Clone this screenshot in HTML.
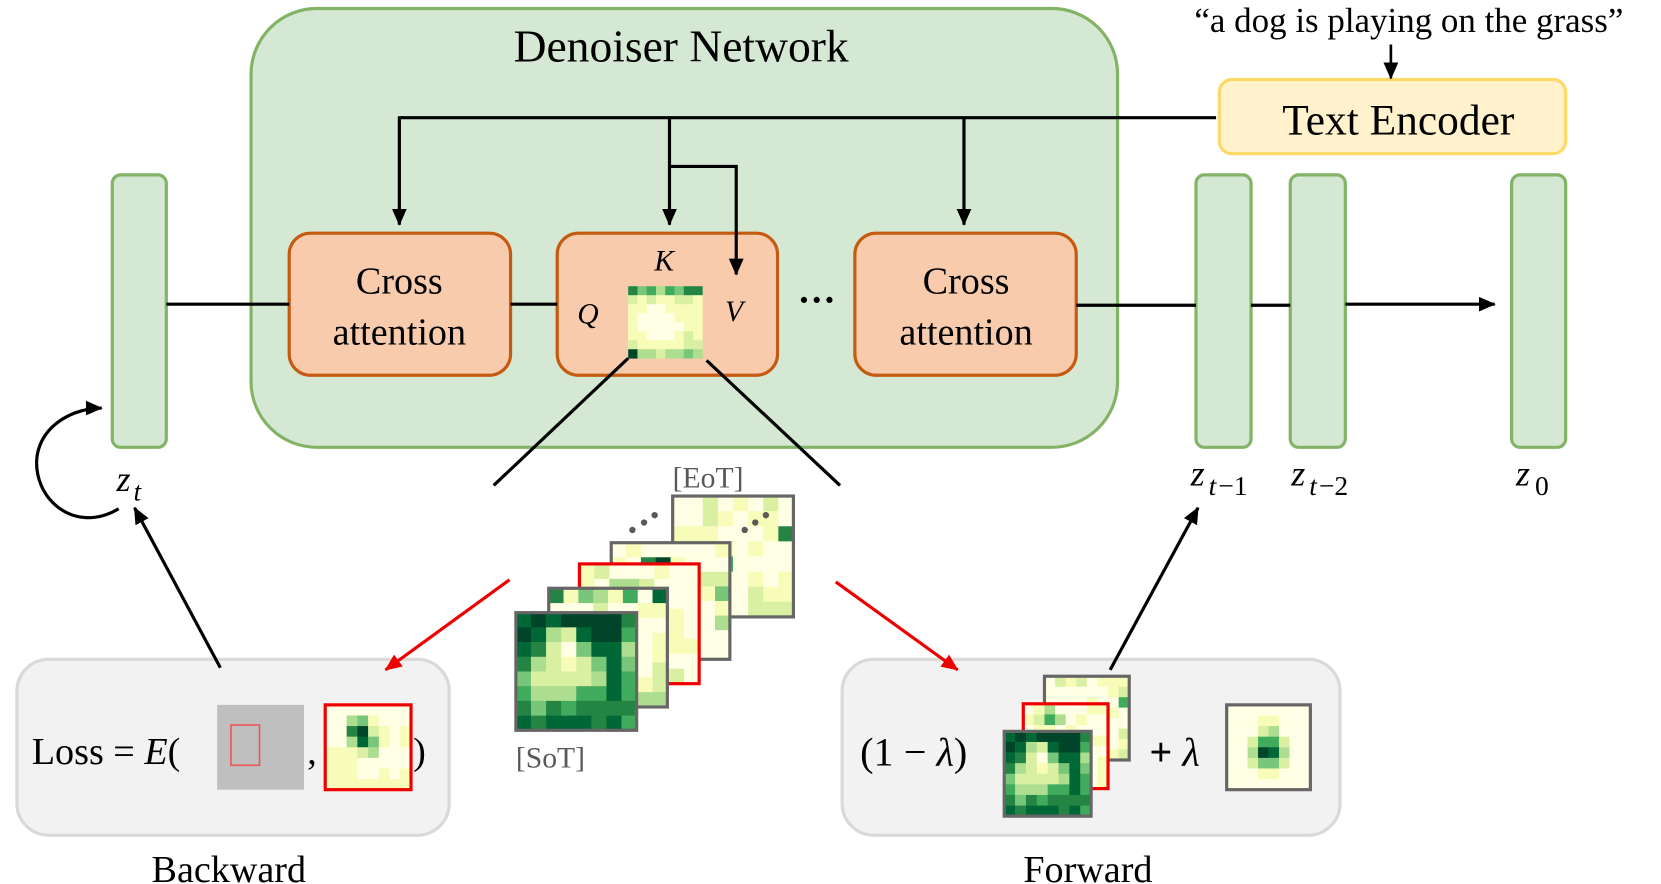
<!DOCTYPE html>
<html><head><meta charset="utf-8">
<style>
html,body{margin:0;padding:0;background:#fff;}
svg{display:block;}
text{font-family:"Liberation Serif",serif;}
</style></head>
<body>
<svg id="s" width="1661" height="884" viewBox="0 0 1568 834" preserveAspectRatio="none" xmlns="http://www.w3.org/2000/svg">
<defs>
<marker id="ar" markerWidth="16" markerHeight="16" refX="15" refY="8" orient="auto" markerUnits="userSpaceOnUse" viewBox="0 0 16 16"><path d="M0,1 L16,8 L0,15 z" fill="#e00"/></marker>
<marker id="abig" markerWidth="16" markerHeight="16" refX="15" refY="8" orient="auto" markerUnits="userSpaceOnUse" viewBox="0 0 16 16"><path d="M0,1 L16,8 L0,15 z" fill="#000"/></marker>
</defs>

<!-- Denoiser -->
<rect x="237" y="8" width="818" height="414" rx="62" fill="#d5e8d4" stroke="#82b366" stroke-width="3"/>
<text x="643" y="58" font-size="43" text-anchor="middle">Denoiser Network</text>

<!-- quote + text encoder -->
<text x="1330" y="30" font-size="33" text-anchor="middle">“a dog is playing  on the grass”</text>
<rect x="1151" y="75" width="327" height="70" rx="12" fill="#fff2cc" stroke="#ffd966" stroke-width="3"/>
<text x="1320" y="127" font-size="41" text-anchor="middle">Text Encoder</text>

<!-- z columns -->
<g fill="#d5e8d4" stroke="#82b366" stroke-width="3">
<rect x="106" y="165" width="51" height="257" rx="8"/>
<rect x="1129" y="165" width="52" height="257" rx="8"/>
<rect x="1218" y="165" width="52" height="257" rx="8"/>
<rect x="1427" y="165" width="51" height="257" rx="8"/>
</g>

<!-- cross attention boxes -->
<g fill="#f8cbad" stroke="#c55a11" stroke-width="3">
<rect x="273" y="220" width="209" height="134" rx="20"/>
<rect x="526" y="220" width="208" height="134" rx="20"/>
<rect x="807" y="220" width="209" height="134" rx="20"/>
</g>
<text x="377" y="277" font-size="36" text-anchor="middle">Cross</text>
<text x="377" y="325" font-size="36" text-anchor="middle">attention</text>
<text x="912" y="277" font-size="36" text-anchor="middle">Cross</text>
<text x="912" y="325" font-size="36" text-anchor="middle">attention</text>
<text x="771" y="295" font-size="36" text-anchor="middle" font-weight="bold">···</text>
<text x="555" y="305" font-size="28" font-style="italic" text-anchor="middle">Q</text>
<text x="627" y="255" font-size="28" font-style="italic" text-anchor="middle">K</text>
<text x="693" y="303" font-size="28" font-style="italic" text-anchor="middle">V</text>
<g id="mini"></g>

<!-- bottom boxes -->
<rect x="16" y="622" width="408" height="166" rx="30" fill="#f2f2f2" stroke="#d9d9d9" stroke-width="3"/>
<rect x="795" y="622" width="470" height="166" rx="30" fill="#f2f2f2" stroke="#d9d9d9" stroke-width="3"/>
<text x="216" y="832" font-size="36" text-anchor="middle">Backward</text>
<text x="1027" y="832" font-size="36" text-anchor="middle">Forward</text>

<!-- connectors -->
<line x1="1313" y1="42" x2="1313" y2="74" stroke="#000" stroke-width="2.5" marker-end="url(#abig)"/>
<g stroke="#000" stroke-width="3" fill="none">
<line x1="1148" y1="111" x2="376" y2="111"/>
<line x1="377" y1="110" x2="377" y2="212" marker-end="url(#abig)"/>
<line x1="632" y1="110" x2="632" y2="212" marker-end="url(#abig)"/>
<line x1="910" y1="110" x2="910" y2="212" marker-end="url(#abig)"/>
<polyline points="632,157 695,157 695,259" marker-end="url(#abig)"/>
</g>
<g stroke="#000" stroke-width="3">
<line x1="157" y1="287" x2="273" y2="287"/>
<line x1="482" y1="287" x2="526" y2="287"/>
<line x1="1016" y1="288" x2="1129" y2="288"/>
<line x1="1181" y1="288" x2="1218" y2="288"/>
<line x1="1270" y1="287" x2="1411" y2="287" marker-end="url(#abig)"/>
</g>

<line x1="593" y1="338" x2="466" y2="458" stroke="#000" stroke-width="3"/>
<line x1="667" y1="340" x2="793" y2="458" stroke="#000" stroke-width="3"/>

<!-- z labels -->
<text x="110" y="463" font-size="34" font-style="italic">z</text><text x="126" y="472" font-size="26" font-style="italic">t</text>
<text x="1124" y="458" font-size="34" font-style="italic">z</text><text x="1141" y="467" font-size="26" font-style="italic">t</text><text x="1150" y="467" font-size="26">−1</text>
<text x="1219" y="458" font-size="34" font-style="italic">z</text><text x="1236" y="467" font-size="26" font-style="italic">t</text><text x="1245" y="467" font-size="26">−2</text>
<text x="1431" y="458" font-size="34" font-style="italic">z</text><text x="1449" y="467" font-size="26">0</text>

<path d="M112,480 C70,505 30,470 35,430 C40,400 70,385 96,385" fill="none" stroke="#000" stroke-width="3" marker-end="url(#abig)"/>
<line x1="208" y1="630" x2="127" y2="479" stroke="#000" stroke-width="3" marker-end="url(#abig)"/>
<line x1="1048" y1="632" x2="1131" y2="479" stroke="#000" stroke-width="3" marker-end="url(#abig)"/>

<line x1="481" y1="547" x2="364" y2="632" stroke="#e00" stroke-width="3" marker-end="url(#ar)"/>
<line x1="789" y1="549" x2="904" y2="632" stroke="#e00" stroke-width="3" marker-end="url(#ar)"/>

<text x="30" y="721" font-size="36">Loss = <tspan font-style="italic">E</tspan>(</text>
<rect x="205" y="665" width="82" height="80" fill="#bfbfbf"/>
<rect x="218" y="684" width="27" height="38" fill="none" stroke="#e55" stroke-width="1.5"/>
<text x="290" y="721" font-size="36">,</text>
<text x="390" y="721" font-size="36">)</text>

<text x="812" y="722" font-size="38">(1 −  <tspan font-style="italic">λ</tspan>)</text>
<text x="1085" y="722" font-size="38"><tspan font-weight="bold">+</tspan> <tspan font-style="italic">λ</tspan></text>

<g id="maps"></g>
<text x="635" y="460" font-size="28" fill="#595959">[EoT]</text>
<text x="487" y="724" font-size="28" fill="#595959">[SoT]</text>
<g fill="#595959">
<circle cx="597" cy="500" r="3"/><circle cx="608" cy="493" r="3"/><circle cx="618" cy="486" r="3"/>
<circle cx="703" cy="500" r="3"/><circle cx="713" cy="493" r="3"/><circle cx="723" cy="486" r="3"/>
</g>
</svg>
<script>
var C=["#ffffe5","#f7fcb9","#d9f0a3","#addd8e","#78c679","#41ab5d","#238443","#006837","#004529"];
var NS="http://www.w3.org/2000/svg";
function mk(t,a,p){var e=document.createElementNS(NS,t);for(var k in a)e.setAttribute(k,a[k]);p.appendChild(e);return e;}
function map(p,x,y,w,h,g,stroke,sw){
  var n=g.length,m=g[0].length;
  mk("rect",{x:x,y:y,width:w,height:h,fill:"#f7fcb9"},p);
  for(var r=0;r<n;r++)for(var c=0;c<m;c++){
    mk("rect",{x:x+c*w/m,y:y+r*h/n,width:w/m+0.3,height:h/n+0.3,fill:C[g[r][c]]},p);
  }
  if(stroke)mk("rect",{x:x,y:y,width:w,height:h,fill:"none",stroke:stroke,"stroke-width":sw},p);
}
function light(seed,spots){var g=[];for(var r=0;r<8;r++){g.push([]);for(var c=0;c<8;c++){seed=(seed*9301+49297)%233280;g[r].push(seed/233280<0.55?0:(seed/233280<0.9?1:2));}}(spots||[]).forEach(function(s){g[s[0]][s[1]]=s[2];});return g;}
var sot=[[7,8,7,8,8,8,8,6],[8,7,3,2,7,8,8,5],[7,6,2,0,4,7,7,3],[6,3,2,1,2,4,7,4],[4,2,2,2,2,3,7,5],[5,3,3,3,5,5,7,5],[6,4,6,5,6,6,6,6],[7,6,7,7,7,6,7,5]];
var M=document.getElementById("maps");
map(M,635,468,114,114,light(3,[[2,7,6],[4,3,5],[4,2,4],[5,2,3],[5,1,4]]),"#666",3);
map(M,577,512,112,110,light(7,[[1,2,6],[1,3,8],[3,7,4],[5,7,3]]),"#666",3);
map(M,547,532,113,113,light(11,[[1,2,3],[1,3,3]]),"#e00",3);
map(M,518,555,112,112,light(19,[[0,0,6],[0,2,4],[0,3,3],[0,5,5],[0,7,7],[7,6,3],[7,7,3]]),"#666",3);
map(M,487,578,114,111,sot,"#666",3);
map(M,307,665,81,80,[[0,0,0,0,0,0,0,0],[0,0,3,4,1,0,0,0],[0,0,6,8,2,1,0,1],[0,0,3,7,4,1,0,1],[1,1,1,2,3,0,0,0],[1,1,1,0,0,0,0,0],[1,1,1,0,0,1,0,1],[1,1,1,1,1,1,1,1]],"#e00",3);
map(M,986,638,80,79,light(29,[[2,7,5],[4,2,4],[4,3,2]]),"#666",3);
map(M,966,664,80,80,light(31,[[0,2,3],[1,2,5],[1,3,3]]),"#e00",3);
map(M,948,690,82,80,sot,"#666",3);
map(M,1158,665,79,80,[[0,0,0,0,0,0,0,0],[0,0,0,1,1,0,0,0],[0,0,0,2,3,0,0,0],[0,0,2,5,5,2,0,0],[0,0,3,8,7,3,0,0],[0,0,2,4,4,2,0,0],[0,0,0,1,1,0,0,0],[0,0,0,0,0,0,0,0]],"#666",3);
var mini=document.getElementById("mini");
map(mini,593,270,70,68,[[6,4,5,3,5,4,6,6],[2,1,2,1,1,2,2,1],[1,1,0,0,1,1,1,1],[1,0,0,0,0,1,1,1],[1,0,0,0,0,0,1,1],[1,1,0,0,0,1,2,1],[2,1,1,1,1,1,2,2],[8,3,3,2,3,3,4,3]],null,0);
</script>
</body></html>
